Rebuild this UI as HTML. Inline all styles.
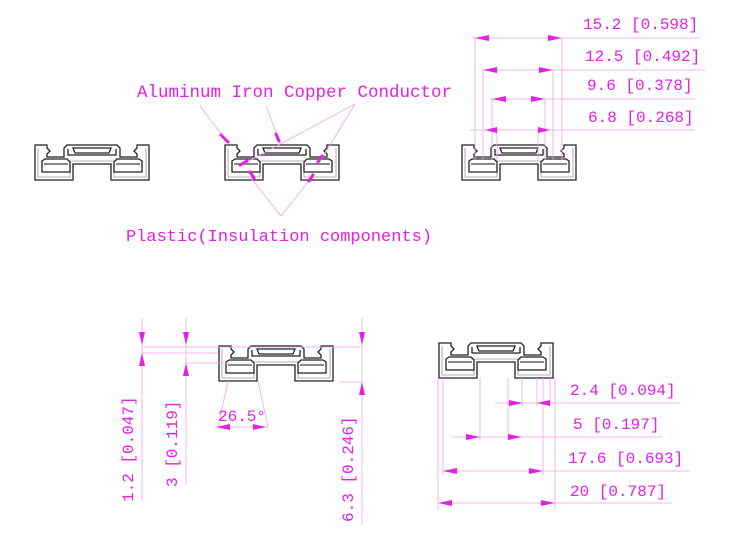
<!DOCTYPE html>
<html><head><meta charset="utf-8"><style>
html,body{margin:0;padding:0;background:#fff;width:750px;height:540px;overflow:hidden}
text{font-family:"Liberation Mono",monospace;fill:#e61ee6}
</style></head><body>
<svg width="750" height="540" viewBox="0 0 750 540" xmlns="http://www.w3.org/2000/svg">
<defs>
<g id="p" fill="none" stroke="#222" stroke-width="1.3">
<path d="M1,1 H13 V4 L16,7 L13,10 V13 H30 V4 L33,1 H83 L86,4 V13 H103 V10 L100,7 L103,4 V1 H115 V36 H77 V20 H39 V36 H1 Z"/>
<path d="M4,4 V33 H36 V17 H80 V33 H112 V4" stroke="#999" stroke-width="0.8"/>
<path d="M8,17 L11,15 H33 L36,18 V28 H8 Z"/>
<path d="M80,18 L83,15 H105 L108,17 V28 H80 Z"/>
<path d="M10,20 H34" stroke="#888" stroke-width="2"/>
<path d="M82,20 H106" stroke="#888" stroke-width="2"/>
<path d="M34,5 V11 H82 V5"/>
<path d="M39,4 H77 L75,9 H41 Z"/>
</g>
</defs>
<use href="#p" x="34" y="144"/>
<use href="#p" x="224" y="144"/>
<use href="#p" x="461" y="144"/>
<use href="#p" x="218" y="345"/>
<use href="#p" x="438" y="342"/>

<g fill="#e61ee6" stroke="none">
<text x="137" y="97" font-size="17.5">Aluminum Iron Copper Conductor</text>
<text x="126" y="241" font-size="17">Plastic(Insulation components)</text>
</g>
<g stroke="#f0a0f0" stroke-width="0.8" fill="none">
<path d="M200,106 L228,143"/><path d="M266,106 L280,143"/>
<path d="M355,104 L245,163"/><path d="M355,104 L321,160"/>
<path d="M281,216 L250,177"/><path d="M281,216 L309,181"/>
</g>
<g stroke="#e61ee6" stroke-width="3" stroke-linecap="round">
<path d="M221,135 L228,142"/><path d="M276,134 L279,141"/>
<path d="M240,165 L247,161"/><path d="M318,162 L322,156"/>
<path d="M250,172 L254,178"/><path d="M309,181 L313,175"/>
</g>

<g stroke="#f0a0f0" stroke-width="0.8" fill="none">
<path d="M475,38 V160 M562,38 V160 M483,70 V160 M553,70 V160 M492,99 V160 M545,99 V160 M497,130 V160 M538,130 V160"/>
<path d="M472,38 H700 M482,70 H705 M490,99 H695 M470,130 H695"/>
</g>
<g font-size="16">
<text x="583" y="29">15.2 [0.598]</text>
<text x="585" y="61">12.5 [0.492]</text>
<text x="587" y="90">9.6 [0.378]</text>
<text x="588" y="122">6.8 [0.268]</text>
</g>
<g fill="#e61ee6">
<path d="M475,38 l14,-3 v6z M562,38 l-14,-3 v6z"/>
<path d="M483,70 l14,-3 v6z M553,70 l-14,-3 v6z"/>
<path d="M492,99 l14,-3 v6z M545,99 l-14,-3 v6z"/>
<path d="M485,130 l12,-3 v6z M550,130 l-12,-3 v6z"/>
</g>

<g stroke="#f0a0f0" stroke-width="0.8" fill="none">
<path d="M142,318 V500 M186,318 V485 M362,318 V525"/>
<path d="M142,347 H362 M142,353 H218 M186,363 H230 M340,382 H362 M335,347 H362"/>
<path d="M228,381 L218,427 M258,381 L268,427 M215,427 H268"/>
</g>
<g fill="#e61ee6">
<path d="M142,345 l-3,-13 h6z M142,353 l-3,13 h6z"/>
<path d="M186,345 l-3,-13 h6z M186,363 l-3,13 h6z"/>
<path d="M362,345 l-3,-13 h6z M362,382 l-3,13 h6z"/>
<path d="M216,427 l14,-3 v6z M266,427 l-13,-3 v6z"/>
</g>
<text x="218" y="421" font-size="16">26.5°</text>
<text transform="translate(133,502) rotate(-90)" font-size="16">1.2 [0.047]</text>
<text transform="translate(177,487) rotate(-90)" font-size="16">3 [0.119]</text>
<text transform="translate(353,522) rotate(-90)" font-size="16">6.3 [0.246]</text>

<g stroke="#f0a0f0" stroke-width="0.8" fill="none">
<path d="M438,378 V510 M443,378 V475 M480,378 V440 M508,378 V440 M522,378 V406 M537,378 V406 M543,378 V475 M550,378 V406 M555,378 V510"/>
<path d="M495,403 H680 M452,437 H662 M443,471 H690 M438,503 H672"/>
</g>
<g fill="#e61ee6">
<path d="M523,403 l-14,-3 v6z M537,403 l13,-3 v6z"/>
<path d="M480,437 l-14,-3 v6z M522,437 l-14,-3 v6z"/>
<path d="M443,471 l14,-3 v6z M543,471 l-14,-3 v6z"/>
<path d="M438,503 l14,-3 v6z M555,503 l-14,-3 v6z"/>
</g>
<g font-size="16">
<text x="570" y="395">2.4 [0.094]</text>
<text x="573" y="429">5 [0.197]</text>
<text x="568" y="463">17.6 [0.693]</text>
<text x="570" y="496">20 [0.787]</text>
</g>
</svg>
</body></html>
